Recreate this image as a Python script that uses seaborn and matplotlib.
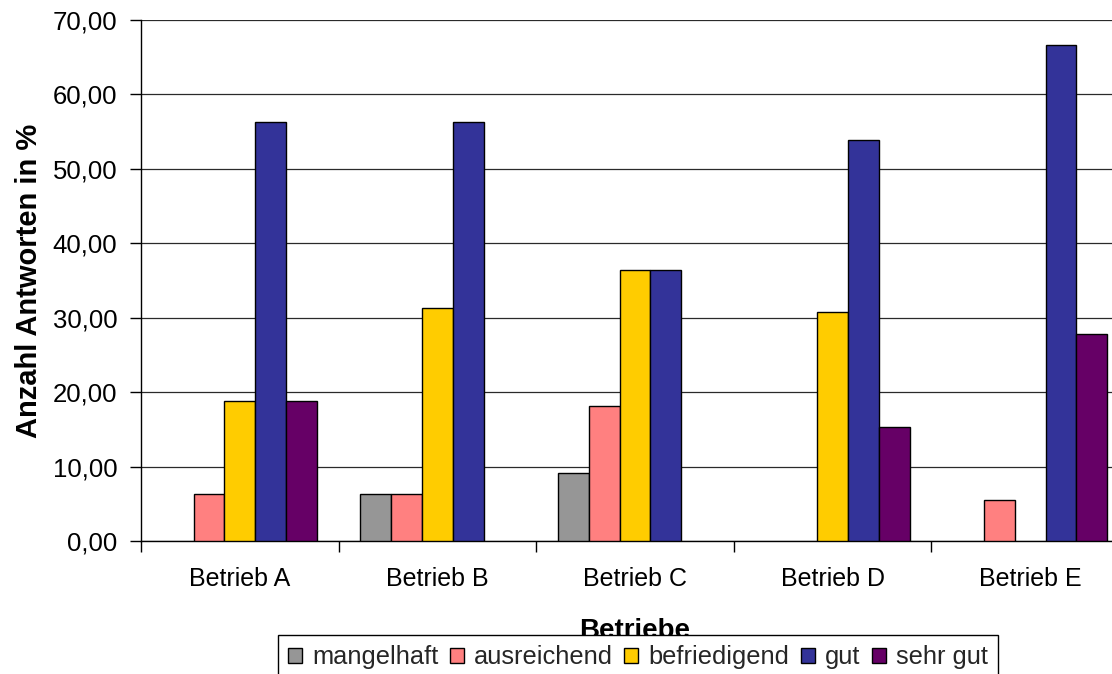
import matplotlib
matplotlib.use("Agg")
import matplotlib.pyplot as plt
from matplotlib.patches import Patch
from matplotlib.ticker import FixedLocator, FuncFormatter, MultipleLocator
import pandas as pd
import seaborn as sns

# Anteil der Antworten je Betrieb und Note (in %)
betriebe = ["Betrieb A", "Betrieb B", "Betrieb C", "Betrieb D", "Betrieb E"]
noten = ["mangelhaft", "ausreichend", "befriedigend", "gut", "sehr gut"]
mangelhaft = [0.0, 6.25, 9.09, 0.0, 0.0]
ausreichend = [6.25, 6.25, 18.18, 0.0, 5.56]
befriedigend = [18.75, 31.25, 36.36, 30.77, 0.0]
gut = [56.25, 56.25, 36.36, 53.85, 66.67]
sehr_gut = [18.75, 0.0, 0.0, 15.38, 27.78]
farben = ["#969696", "#FF8080", "#FFCC00", "#333399", "#660066"]

werte = {
    "mangelhaft": mangelhaft,
    "ausreichend": ausreichend,
    "befriedigend": befriedigend,
    "gut": gut,
    "sehr gut": sehr_gut,
}
df = pd.DataFrame(
    [(b, n, werte[n][i]) for n in noten for i, b in enumerate(betriebe)],
    columns=["Betrieb", "Note", "Anteil"],
)

sns.set_theme(style="white")
plt.rcParams["font.family"] = ["Liberation Sans", "DejaVu Sans"]

W, H = 1112, 674
fig = plt.figure(figsize=(W / 100, H / 100), dpi=100)
x0, x1, y_top, y_bot = 141, 1129, 20, 541
ax = fig.add_axes([x0 / W, 1 - y_bot / H, (x1 - x0) / W, (y_bot - y_top) / H])

sns.barplot(
    data=df, x="Betrieb", y="Anteil", hue="Note",
    order=betriebe, hue_order=noten, palette=farben, saturation=1,
    width=0.78, gap=0, edgecolor="black", linewidth=1.0,
    legend=False, ax=ax, zorder=3,
)

# empty categories get no outline on the baseline
for bar in ax.patches:
    if bar.get_height() == 0:
        bar.set_linewidth(0)

ax.set_xlim(-0.5, len(betriebe) - 0.5)
ax.set_ylim(0, 70)
ax.yaxis.set_major_locator(MultipleLocator(10))
ax.yaxis.set_major_formatter(FuncFormatter(lambda v, p: f"{v:.2f}".replace(".", ",")))
ax.yaxis.grid(True, color="#2a2a2a", linewidth=0.9, zorder=0)
ax.xaxis.grid(False)
ax.set_axisbelow(True)

for side in ("top", "right"):
    ax.spines[side].set_visible(False)
for side in ("left", "bottom"):
    ax.spines[side].set_color("black")
    ax.spines[side].set_linewidth(1.0)

# category dividers as tick marks, labels centred without marks
ax.xaxis.set_minor_locator(FixedLocator([i - 0.5 for i in range(len(betriebe) + 1)]))
ax.tick_params(axis="x", which="major", length=0, pad=19, labelsize=18, colors="black")
ax.tick_params(axis="x", which="minor", length=8, width=1.0, color="black", direction="out", bottom=True)
ax.tick_params(axis="y", which="major", length=8, width=1.0, color="black", direction="out",
               pad=9, labelsize=18.5, left=True, labelcolor="black")

ax.set_ylabel("Anzahl Antworten in %", fontsize=21, fontweight="bold", color="black")
ax.yaxis.set_label_coords(-0.099, 0.5)
ax.set_xlabel("Betriebe", fontsize=20, fontweight="bold", color="black")
ax.xaxis.label.set_va("baseline")
ax.xaxis.set_label_coords(0.5, -(638 - y_bot) / (y_bot - y_top))

handles = [Patch(facecolor=c, edgecolor="black", linewidth=1.0) for c in farben]
leg = fig.legend(
    handles, noten, loc="upper center", bbox_to_anchor=(638 / W, 1 - 635 / H),
    ncol=5, frameon=True, fancybox=False, edgecolor="black", framealpha=1,
    fontsize=18.3, handlelength=0.55, handleheight=0.55, handletextpad=0.4,
    columnspacing=0.45, borderpad=0.4, borderaxespad=0,
)
leg.get_frame().set_linewidth(1.0)

fig.savefig("out.png", dpi=100, facecolor="white")
